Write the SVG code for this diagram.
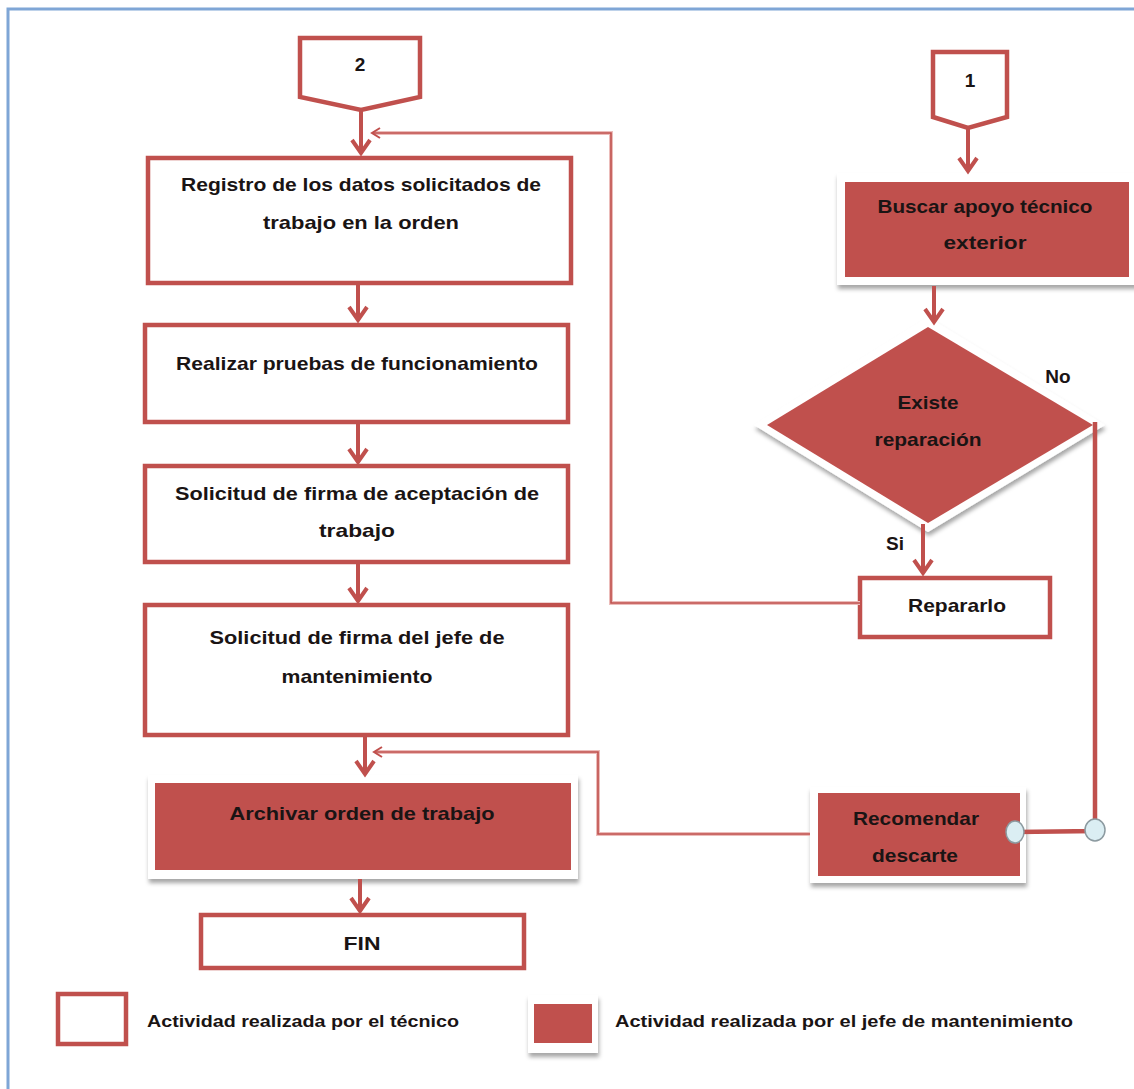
<svg xmlns="http://www.w3.org/2000/svg" width="1134" height="1089" viewBox="0 0 1134 1089">
<defs>
<style>
.box{fill:#ffffff;stroke:#c0504d;stroke-width:4.5}
.fill{fill:#c0504d}
.frame{fill:#ffffff;filter:url(#sh)}
.t{font-family:"Liberation Sans",Arial,sans-serif;font-weight:bold;font-size:19px;fill:#1a1414;text-anchor:middle}
.lg{font-family:"Liberation Sans",Arial,sans-serif;font-weight:bold;font-size:16px;fill:#1a1414}
.main{stroke:#c0504d;stroke-width:4;fill:none}
.fbu{stroke:#ecbcba;stroke-width:4;fill:none}
.fb{stroke:#c0504d;stroke-width:1.6;fill:none}
.dot{fill:#dbeef3;stroke:#8c9aa0;stroke-width:1.5}
</style>
<filter id="sh" x="-20%" y="-20%" width="140%" height="150%">
<feDropShadow dx="1" dy="4" stdDeviation="2" flood-color="#000" flood-opacity="0.35"/>
</filter>
<marker id="ah" markerUnits="userSpaceOnUse" viewBox="-16 -16 32 32" markerWidth="32" markerHeight="32" refX="0" refY="0" orient="auto" overflow="visible">
<path d="M-13,-9 L0,0 L-13,9" fill="none" stroke="#c0504d" stroke-width="4" stroke-linejoin="miter"/>
</marker>
<marker id="sa" markerUnits="userSpaceOnUse" viewBox="-10 -10 20 20" markerWidth="20" markerHeight="20" refX="0" refY="0" orient="auto" overflow="visible">
<path d="M-8,-5 L0,0 L-8,5" fill="none" stroke="#c0504d" stroke-width="2"/>
</marker>
</defs>
<rect x="0" y="0" width="1134" height="1089" fill="#ffffff"/>
<path d="M8,1089 L8,9 L1134,9" fill="none" stroke="#7fa6d6" stroke-width="3"/>

<g id="conn2">
<polygon class="box" points="300,38 420,38 420,97 361,110 300,97"/>
<text class="t" x="360" y="71">2</text>
</g>
<g id="conn1">
<polygon class="box" points="933,52 1007,52 1007,117 968,128 933,117"/>
<text class="t" x="970" y="87">1</text>
</g>

<g id="registro">
<rect class="box" x="148" y="158" width="423" height="125"/>
<text class="t" x="361" y="191" textLength="360" lengthAdjust="spacingAndGlyphs">Registro de los datos solicitados de</text>
<text class="t" x="361" y="229" textLength="196" lengthAdjust="spacingAndGlyphs">trabajo en la orden</text>
</g>
<g id="pruebas">
<rect class="box" x="145" y="325" width="423" height="97"/>
<text class="t" x="357" y="370" textLength="362" lengthAdjust="spacingAndGlyphs">Realizar pruebas de funcionamiento</text>
</g>
<g id="aceptacion">
<rect class="box" x="145" y="466" width="423" height="96"/>
<text class="t" x="357" y="500" textLength="364" lengthAdjust="spacingAndGlyphs">Solicitud de firma de aceptación de</text>
<text class="t" x="357" y="537" textLength="76" lengthAdjust="spacingAndGlyphs">trabajo</text>
</g>
<g id="firmajefe">
<rect class="box" x="145" y="605" width="423" height="130"/>
<text class="t" x="357" y="644" textLength="295" lengthAdjust="spacingAndGlyphs">Solicitud de firma del jefe de</text>
<text class="t" x="357" y="683" textLength="151" lengthAdjust="spacingAndGlyphs">mantenimiento</text>
</g>
<g id="archivar">
<rect class="frame" x="148" y="775" width="430" height="104"/>
<rect class="fill" x="155" y="783" width="416" height="87"/>
<text class="t" x="362" y="820" textLength="265" lengthAdjust="spacingAndGlyphs">Archivar orden de trabajo</text>
</g>
<g id="fin">
<rect class="box" x="201" y="915" width="323" height="53"/>
<text class="t" x="362" y="950" textLength="37" lengthAdjust="spacingAndGlyphs">FIN</text>
</g>

<g id="buscar">
<rect class="frame" x="837" y="173" width="300" height="112"/>
<rect class="fill" x="845" y="182" width="284" height="95"/>
<text class="t" x="985" y="213" textLength="215" lengthAdjust="spacingAndGlyphs">Buscar apoyo técnico</text>
<text class="t" x="985" y="249" textLength="83" lengthAdjust="spacingAndGlyphs">exterior</text>
</g>
<g id="existe">
<polygon class="frame" points="928,317 754,425 928,532 1105,425"/>
<polygon class="fill" points="928,327 767,425 928,523 1093,425"/>
<text class="t" x="928" y="409" textLength="61" lengthAdjust="spacingAndGlyphs">Existe</text>
<text class="t" x="928" y="446" textLength="107" lengthAdjust="spacingAndGlyphs">reparación</text>
</g>
<g id="reparar">
<rect class="box" x="860" y="578" width="190" height="59"/>
<text class="t" x="957" y="612" textLength="98" lengthAdjust="spacingAndGlyphs">Repararlo</text>
</g>
<g id="recomendar">
<rect class="frame" x="810" y="787" width="216" height="96"/>
<rect class="fill" x="818" y="793" width="202" height="83"/>
<text class="t" x="916" y="825" textLength="126" lengthAdjust="spacingAndGlyphs">Recomendar</text>
<text class="t" x="915" y="862" textLength="86" lengthAdjust="spacingAndGlyphs">descarte</text>
</g>

<g id="legend-tecnico">
<rect class="box" x="58" y="994" width="68" height="50"/>
<text class="lg" x="147" y="1027" textLength="312" lengthAdjust="spacingAndGlyphs">Actividad  realizada  por el técnico</text>
</g>
<g id="legend-jefe">
<rect class="frame" x="528" y="995" width="70" height="58"/>
<rect class="fill" x="534" y="1004" width="58" height="39"/>
<text class="lg" x="615" y="1027" textLength="458" lengthAdjust="spacingAndGlyphs">Actividad  realizada  por el jefe de mantenimiento</text>
</g>

<g id="connectors">
<line class="main" x1="361" y1="110" x2="361" y2="153" marker-end="url(#ah)"/>
<line class="main" x1="358" y1="283" x2="358" y2="320" marker-end="url(#ah)"/>
<line class="main" x1="358" y1="422" x2="358" y2="462" marker-end="url(#ah)"/>
<line class="main" x1="358" y1="562" x2="358" y2="601" marker-end="url(#ah)"/>
<line class="main" x1="365" y1="735" x2="365" y2="774" marker-end="url(#ah)"/>
<line class="main" x1="360" y1="879" x2="360" y2="911" marker-end="url(#ah)"/>
<line class="main" x1="968" y1="128" x2="968" y2="171" marker-end="url(#ah)"/>
<line class="main" x1="934" y1="286" x2="934" y2="322" marker-end="url(#ah)"/>
<line class="main" x1="923" y1="524" x2="923" y2="573" marker-end="url(#ah)"/>
<polyline class="fbu" points="860,603 611,603 611,133 373,133"/>
<polyline class="fb" points="860,603 611,603 611,133 372,133" marker-end="url(#sa)"/>
<polyline class="fbu" points="810,834 598,834 598,752 375,752"/>
<polyline class="fb" points="810,834 598,834 598,752 374,752" marker-end="url(#sa)"/>
<polyline points="1095,422 1095,831 1015,832" fill="none" stroke="#c0504d" stroke-width="4.5"/>
<ellipse class="dot" cx="1015" cy="832" rx="9" ry="11"/>
<ellipse class="dot" cx="1095" cy="830" rx="10" ry="11"/>
<text class="t" x="1058" y="383">No</text>
<text class="t" x="895" y="550">Si</text>
</g>
</svg>
